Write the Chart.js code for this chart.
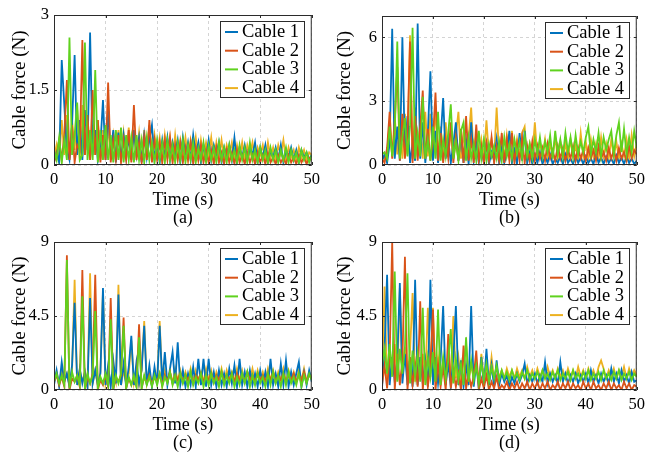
<!DOCTYPE html>
<html>
<head>
<meta charset="utf-8">
<script src="https://cdn.jsdelivr.net/npm/chart.js@4.4.1/dist/chart.umd.min.js"></script>
<style>
  body { margin: 0; background: #fff; width: 650px; height: 455px; position: relative; overflow: hidden; }
  canvas { position: absolute; }
</style>
</head>
<body>
<canvas id="panelA" width="325" height="228" style="left:0;top:0"></canvas>
<canvas id="panelB" width="325" height="228" style="left:325px;top:0"></canvas>
<canvas id="panelC" width="325" height="228" style="left:0;top:227px"></canvas>
<canvas id="panelD" width="325" height="228" style="left:325px;top:227px"></canvas>
<script>
// sample times, every 0.5 s from 0 to 50 s
const timeS = [];
for (let i = 0; i <= 100; i++) timeS.push(i * 0.5);

const cableNames = ['Cable 1', 'Cable 2', 'Cable 3', 'Cable 4'];
const xTicks = [0, 10, 20, 30, 40, 50];

// (a)
const yTicksA = [0, 1.5, 3];
const forceA1 = [0.1,0.25,0.05,2.1,1.2,0.3,0.1,0.8,2.2,0.2,0.9,0.1,1.1,0.3,2.65,0.2,0.7,0.1,0.4,1.3,
  0.1,1.1,0.2,0.7,0.05,0.65,0.1,0.6,0.15,0.55,0.1,0.7,0.2,0.55,0.05,0.6,0.15,0.5,0.8,0.1,
  0.45,0.05,0.5,0.15,0.55,0.1,0.45,0.2,0.5,0.05,0.55,0.15,0.45,0.1,0.6,0.2,0.45,0.05,0.4,0.15,
  0.5,0.1,0.4,0.2,0.45,0.05,0.35,0.15,0.4,0.1,0.55,0.05,0.35,0.15,0.4,0.1,0.35,0.2,0.45,0.05,
  0.35,0.15,0.4,0.05,0.3,0.15,0.35,0.1,0.4,0.05,0.3,0.15,0.35,0.1,0.3,0.05,0.3,0.15,0.25,0.1,0.2];
const forceA2 = [0.05,0.2,0.5,0.1,0.6,1.7,0.1,0.8,0.05,0.4,0.3,2.5,0.2,1.0,0.1,1.5,0.2,0.9,0.05,0.6,
  0.1,1.65,0.05,0.5,0.1,0.6,0.05,0.5,0.1,0.7,0.05,1.2,0.1,0.45,0.05,0.55,0.1,0.9,0.05,0.5,
  0.1,0.45,0.05,0.5,0.1,0.55,0.05,0.4,0.1,0.45,0.05,0.35,0.1,0.45,0.02,0.35,0.1,0.4,0.05,0.3,
  0.05,0.3,0.02,0.35,0.05,0.25,0.02,0.3,0.05,0.25,0.02,0.3,0.05,0.2,0.02,0.25,0.05,0.2,0.02,0.25,
  0.05,0.2,0.02,0.25,0.05,0.15,0.02,0.2,0.05,0.15,0.02,0.2,0.05,0.15,0.02,0.2,0.05,0.15,0.02,0.15,0.1];
const forceA3 = [0.3,0.1,0.55,0.05,0.5,0.1,2.55,0.2,0.6,1.25,0.1,0.2,2.45,0.1,0.7,0.1,1.9,0.05,0.7,0.1,
  0.8,0.1,0.6,0.05,0.7,0.1,0.75,0.05,0.6,0.1,0.55,0.05,0.6,0.1,0.5,0.05,0.55,0.1,0.45,0.05,
  0.5,0.1,0.45,0.05,0.5,0.1,0.4,0.05,0.45,0.1,0.5,0.05,0.4,0.1,0.45,0.05,0.35,0.1,0.45,0.05,
  0.4,0.1,0.35,0.05,0.45,0.1,0.35,0.05,0.4,0.1,0.3,0.05,0.4,0.1,0.35,0.05,0.45,0.1,0.3,0.05,
  0.35,0.1,0.3,0.05,0.35,0.1,0.3,0.05,0.3,0.1,0.35,0.05,0.3,0.1,0.25,0.05,0.3,0.1,0.25,0.05,0.2];
const forceA4 = [0.15,0.4,0.05,0.9,0.2,1.0,0.1,0.9,0.3,1.1,0.1,1.2,0.2,1.0,0.1,0.8,0.2,0.9,0.1,0.7,
  0.2,0.75,0.1,0.6,0.2,0.7,0.1,0.65,0.2,0.75,0.1,0.6,0.2,0.65,0.1,0.7,0.2,0.8,0.15,0.6,
  0.2,0.55,0.1,0.6,0.2,0.55,0.1,0.6,0.15,0.5,0.2,0.55,0.1,0.5,0.2,0.55,0.1,0.5,0.15,0.45,
  0.2,0.55,0.1,0.45,0.15,0.5,0.1,0.4,0.2,0.45,0.1,0.4,0.15,0.45,0.1,0.4,0.2,0.45,0.1,0.35,
  0.2,0.4,0.1,0.45,0.15,0.35,0.1,0.4,0.2,0.5,0.1,0.35,0.15,0.3,0.1,0.35,0.15,0.3,0.1,0.25,0.2];

// (b)
const yTicksB = [0, 3, 6];
const forceB1 = [0.2,0.5,0.1,1.0,6.4,0.3,1.8,0.2,6.0,0.5,2.3,0.1,1.0,0.2,6.65,0.3,2.0,0.1,1.5,4.4,
  0.2,1.6,0.1,1.2,3.15,0.3,1.2,0.1,1.0,2.0,0.2,1.5,0.1,1.2,0.05,2.0,0.2,1.0,0.1,0.8,
  0.1,1.0,0.05,0.6,0.2,1.2,0.05,0.8,0.1,0.5,1.6,0.1,0.7,0.05,1.5,0.2,1.6,0.1,0.6,0.05,
  0.5,0.1,0.6,0.05,0.4,0.1,0.5,0.05,0.3,0.1,0.4,0.05,0.5,0.1,0.3,0.05,0.4,0.1,0.35,0.05,
  0.4,0.1,0.3,0.05,0.5,0.1,0.35,0.05,0.4,0.1,0.3,0.05,0.45,0.1,0.35,0.05,0.4,0.1,0.3,0.05,0.2];
const forceB2 = [0.3,0.1,0.8,2.5,0.3,2.0,4.6,0.2,2.4,0.3,1.5,5.8,0.1,2.3,0.2,1.8,3.5,0.3,1.7,0.2,
  1.2,3.4,0.2,1.5,0.1,1.2,0.3,2.0,0.1,1.3,0.2,1.7,0.1,2.3,0.2,1.2,0.1,1.9,0.2,0.9,
  0.1,1.0,0.2,1.3,0.1,0.9,0.2,1.5,0.1,1.2,0.2,1.5,0.1,1.0,0.2,1.3,0.1,0.9,0.2,1.1,
  0.2,0.9,0.3,0.8,0.2,1.0,0.3,0.7,0.2,0.9,0.3,0.8,0.2,0.7,0.3,0.9,0.2,0.8,0.3,0.7,
  0.2,0.8,0.3,0.7,0.2,0.9,0.3,0.6,0.2,0.8,0.3,0.7,0.2,0.8,0.3,0.6,0.2,0.9,0.3,0.7,0.5];
const forceB3 = [0.5,0.6,0.3,1.8,0.4,1.5,5.8,0.3,1.3,2.2,0.4,1.8,6.45,0.3,1.5,0.4,3.2,0.3,1.2,0.2,
  1.8,0.3,2.5,0.2,1.2,0.4,1.5,2.85,0.3,1.1,0.2,1.6,2.0,0.2,1.3,0.3,1.0,0.2,1.6,0.3,
  1.2,0.2,1.0,0.4,0.9,0.3,1.1,0.2,1.3,0.4,1.0,0.3,1.2,0.5,1.1,0.3,1.4,0.4,1.0,0.3,
  1.2,0.5,1.3,0.4,1.1,0.6,1.4,0.3,1.6,0.5,1.2,0.4,1.5,0.6,1.3,0.4,1.4,0.5,1.1,0.6,
  1.3,1.8,0.5,1.2,0.6,1.5,0.4,1.3,0.7,1.2,1.6,0.5,1.4,2.0,0.6,1.7,0.5,1.3,0.6,1.6,0.8];
const forceB4 = [0.4,0.3,0.6,2.0,0.4,2.3,0.5,2.0,0.3,2.4,0.5,6.1,0.3,2.7,0.4,2.0,0.3,2.5,0.4,2.4,
  0.3,2.8,0.4,1.8,0.3,2.0,0.4,1.6,0.3,1.4,2.5,0.3,1.5,0.4,1.3,2.7,0.3,1.5,0.4,1.2,
  0.3,2.1,0.4,1.2,0.3,2.7,0.4,1.3,0.3,1.4,0.4,1.6,0.3,1.2,0.4,1.5,1.8,0.3,1.0,0.4,
  2.0,0.3,1.1,0.4,1.2,0.3,1.0,0.4,1.3,0.3,1.1,0.4,1.0,0.3,1.2,0.4,0.9,0.3,1.5,0.4,
  1.1,0.3,1.2,0.4,1.0,0.3,1.3,0.4,1.0,0.3,1.2,0.4,1.1,0.3,1.0,0.4,1.2,0.3,1.4,0.4,1.0];

// (c)
const yTicksC = [0, 4.5, 9];
const forceC1 = [0.3,1.2,0.2,1.7,0.5,1.0,0.2,1.5,5.3,0.3,1.3,0.4,1.1,0.2,5.6,0.4,1.2,0.3,1.0,6.2,
  0.3,1.5,0.2,1.8,0.4,5.8,0.3,1.6,0.2,1.4,3.3,0.3,1.7,0.4,1.2,3.9,0.3,1.5,0.2,1.4,
  0.3,3.9,0.4,2.3,0.3,1.3,2.3,0.4,2.9,0.3,1.2,0.2,1.0,0.3,1.4,0.2,1.9,0.3,1.9,0.2,
  1.9,0.3,1.1,0.2,1.2,0.3,1.0,0.2,1.3,0.4,1.5,0.2,1.9,0.3,1.1,0.2,1.2,0.3,1.0,0.2,
  1.2,0.3,1.1,0.2,1.9,0.3,1.0,0.2,1.6,0.3,1.8,0.2,1.1,0.3,1.0,1.7,0.2,1.1,0.3,1.2,0.5];
const forceC2 = [0.5,0.9,0.3,0.8,0.2,8.2,0.0,0.7,0.5,0.9,0.2,7.3,0.0,0.8,0.4,1.0,7.0,0.0,0.6,0.3,
  0.9,0.2,5.6,0.0,0.8,0.5,0.9,4.4,0.1,0.7,0.3,0.8,0.2,4.0,0.1,0.8,0.4,0.9,0.3,0.8,
  0.5,1.0,0.3,0.9,0.5,1.1,0.4,0.9,0.6,1.0,0.5,0.9,0.6,1.0,0.4,0.9,0.6,1.0,0.5,0.9,
  0.6,1.0,0.5,0.9,0.6,1.1,0.5,0.9,0.6,1.0,0.5,1.0,0.6,0.9,0.5,1.1,0.6,0.9,0.5,1.0,
  0.6,0.9,0.5,1.0,0.6,1.1,0.5,0.9,0.6,1.0,0.5,0.9,0.6,1.0,0.5,0.9,0.6,1.1,0.5,0.9,0.7];
const forceC3 = [0.5,1.0,0.4,0.9,0.3,7.9,0.1,1.1,0.5,0.9,0.3,5.7,0.1,1.0,0.4,0.9,4.8,0.1,0.8,0.4,
  1.0,0.3,4.3,0.1,0.9,0.4,1.0,3.9,0.1,0.8,0.3,0.9,0.2,3.2,0.1,0.9,0.3,0.8,0.2,0.9,
  0.3,1.0,0.2,0.8,0.4,1.1,0.3,0.9,0.2,1.0,0.4,0.9,0.2,1.1,0.3,0.8,0.4,1.0,0.2,0.9,
  0.3,1.0,0.4,0.8,0.2,1.1,0.3,0.9,0.4,1.0,0.2,0.8,0.3,1.0,0.4,1.1,0.2,0.9,0.3,1.0,
  0.4,0.8,0.2,1.0,0.3,1.1,0.4,0.9,0.2,1.0,0.3,1.1,0.4,0.8,0.3,1.0,0.2,0.9,0.4,1.0,0.6];
const forceC4 = [0.6,1.1,0.4,1.3,0.5,1.0,0.3,1.2,6.7,0.3,1.2,0.5,1.1,0.3,7.1,0.4,1.2,0.3,1.1,6.0,
  0.4,1.2,0.3,1.1,0.5,6.4,0.3,1.2,0.4,1.0,3.0,0.4,1.1,0.3,1.2,4.2,0.4,1.1,0.3,1.0,
  0.5,4.2,0.4,1.2,0.5,1.1,0.4,1.3,0.6,1.2,0.5,1.1,0.6,1.3,0.5,1.2,0.6,1.1,0.5,1.3,
  0.6,1.2,0.5,1.1,0.6,1.3,0.5,1.2,0.6,1.1,0.5,1.3,0.6,1.2,0.5,1.1,0.6,1.3,0.5,1.2,
  0.6,1.1,0.5,1.3,0.6,1.2,0.5,1.1,0.6,1.3,0.5,1.2,0.6,1.1,0.5,1.2,0.6,1.3,0.5,1.1,0.8];

// (d)
const yTicksD = [0, 4.5, 9];
const forceD1 = [0.1,2.5,7.0,0.3,2.0,0.5,1.8,6.5,0.4,2.2,0.3,1.9,0.2,6.7,0.3,2.0,0.4,1.8,0.2,6.7,
  0.3,2.0,0.4,1.8,5.1,0.3,1.6,0.2,1.9,5.1,0.3,1.8,0.2,1.5,0.3,5.1,0.2,1.6,0.1,2.0,
  0.2,2.5,0.3,1.5,0.2,1.8,0.3,1.0,0.5,0.9,0.2,0.8,0.4,1.0,0.5,0.9,1.6,0.4,0.9,0.5,
  1.0,0.4,0.9,0.5,1.7,0.4,1.0,0.5,0.9,0.4,1.7,0.5,1.0,0.4,0.9,0.5,1.0,0.4,0.9,0.5,
  1.0,0.4,1.2,0.5,0.9,0.4,1.0,0.5,0.9,0.4,1.3,0.5,1.0,0.4,1.2,0.5,0.9,0.4,1.1,0.5,0.6];
const forceD2 = [0.3,1.5,0.1,2.0,9.0,0.0,2.2,0.3,1.8,8.1,0.0,2.0,0.3,1.6,0.2,5.4,0.0,1.8,0.2,1.5,
  4.9,0.0,1.6,0.2,1.4,0.0,3.4,0.1,1.2,0.2,1.0,0.0,2.7,0.1,1.0,0.2,0.8,2.4,0.0,0.7,
  0.1,0.9,0.0,0.5,0.1,0.8,0.0,0.3,0.1,0.5,0.0,0.4,0.1,0.5,0.0,0.4,0.1,0.5,0.0,0.4,
  0.1,0.5,0.0,0.4,0.1,0.5,0.0,0.3,0.1,0.5,0.0,0.4,0.1,0.5,0.0,0.4,0.1,0.3,0.0,0.5,
  0.1,0.4,0.0,0.5,0.1,0.3,0.0,0.4,0.1,0.5,0.0,0.4,0.1,0.3,0.0,0.5,0.1,0.4,0.0,0.3,0.2];
const forceD3 = [1.5,2.5,1.0,2.8,0.8,7.2,0.5,2.5,1.0,2.6,7.1,0.4,2.4,0.8,2.2,0.5,5.0,0.3,2.0,0.8,
  2.3,0.5,4.9,0.3,2.0,0.7,1.8,3.7,0.4,1.9,0.6,1.6,0.3,3.2,0.5,1.8,0.6,1.5,0.4,1.7,
  0.6,1.6,0.5,1.4,0.7,1.5,0.6,1.2,0.7,1.1,0.6,1.2,0.7,1.0,0.6,1.1,0.7,1.2,0.6,1.0,
  0.7,1.1,0.6,1.2,0.7,1.0,0.6,1.1,0.7,1.2,0.6,1.0,0.7,1.1,0.6,1.2,0.7,1.0,0.6,1.1,
  0.7,1.2,0.6,1.0,0.7,1.1,0.6,1.2,0.7,1.0,0.6,1.1,0.7,1.2,0.6,1.0,0.7,1.1,0.6,1.0,0.8];
const forceD4 = [0.2,6.3,0.5,2.5,1.0,2.8,0.6,6.2,0.8,2.6,1.0,2.3,5.9,0.5,2.4,0.7,2.2,0.6,5.0,0.8,
  5.0,0.5,2.0,0.7,1.8,0.5,2.2,0.6,4.5,0.7,2.0,0.5,1.8,2.8,0.6,1.5,0.7,1.6,0.5,2.2,
  0.7,1.5,0.6,2.0,0.7,1.3,0.8,1.2,0.7,1.3,0.8,1.2,0.7,1.3,0.8,1.2,0.7,1.4,0.8,1.2,
  0.7,1.3,0.8,1.2,0.7,1.4,0.8,1.2,0.7,1.3,0.8,1.2,0.7,1.3,0.8,1.2,0.7,1.4,0.8,1.2,
  0.7,1.3,0.8,1.2,0.7,1.4,1.8,1.3,0.7,1.2,0.8,1.3,0.7,1.2,0.8,1.4,0.7,1.3,0.8,1.2,0.9];

const cableColors = ['#0072BD', '#D95319', '#5FD21E', '#EDB120'];
// green on top, yellow underneath
const drawOrder = [2, 1, 0, 3];
const FONT = "'Liberation Serif', 'Times New Roman', serif";

// axes box, inward ticks and the boxed legend
const boxPlugin = {
  id: 'boxFrame',
  afterDraw(chart) {
    const { ctx, chartArea: a, scales } = chart;
    ctx.save();
    ctx.strokeStyle = '#2b2b2b';
    ctx.lineWidth = 1;
    ctx.beginPath();
    scales.x.ticks.forEach(t => {
      const px = Math.round(scales.x.getPixelForValue(t.value)) + 0.5;
      ctx.moveTo(px, a.bottom); ctx.lineTo(px, a.bottom - 3);
      ctx.moveTo(px, a.top); ctx.lineTo(px, a.top + 3);
    });
    scales.y.ticks.forEach(t => {
      const py = Math.round(scales.y.getPixelForValue(t.value)) + 0.5;
      ctx.moveTo(a.left, py); ctx.lineTo(a.left + 3, py);
      ctx.moveTo(a.right, py); ctx.lineTo(a.right - 3, py);
    });
    ctx.stroke();
    ctx.strokeRect(a.left + 0.5, a.top + 0.5, a.right - a.left - 1, a.bottom - a.top - 1);

    ctx.font = '18.5px ' + FONT;
    const sets = chart.data.datasets;
    const tw = Math.max(...sets.map(d => ctx.measureText(d.label).width));
    const w = Math.round(tw + 27), h = 76;
    const x0 = Math.round(a.right - 8 - w), y0 = Math.round(a.top + 6);
    ctx.fillStyle = '#fff';
    ctx.fillRect(x0, y0, w, h);
    ctx.strokeStyle = '#2b2b2b';
    ctx.strokeRect(x0 + 0.5, y0 + 0.5, w, h);
    ctx.textBaseline = 'middle';
    sets.forEach((d, i) => {
      const cy = y0 + 11 + i * 18.7;
      ctx.strokeStyle = d.borderColor;
      ctx.lineWidth = 2;
      ctx.beginPath();
      ctx.moveTo(x0 + 5, cy); ctx.lineTo(x0 + 18, cy);
      ctx.stroke();
      ctx.fillStyle = '#000';
      ctx.fillText(d.label, x0 + 22, cy);
    });
    ctx.restore();
  }
};

function makePanel(id, series, yTicks, yMax, caption, area, capPad) {
  const el = document.getElementById(id);
  const W = el.width, H = el.height;
  return new Chart(el, {
    type: 'line',
    data: {
      datasets: series.map((vals, k) => ({
        label: cableNames[k],
        data: vals.map((v, i) => ({ x: timeS[i], y: v })),
        borderColor: cableColors[k],
        borderWidth: 1.8,
        pointRadius: 0,
        tension: 0,
        order: drawOrder[k]
      }))
    },
    options: {
      responsive: false,
      animation: false,
      events: [],
      layout: { padding: { top: area.top, right: W - area.right, left: 0, bottom: 0 } },
      plugins: { legend: { display: false }, tooltip: { enabled: false } },
      scales: {
        x: {
          type: 'linear', min: 0, max: 50,
          afterBuildTicks: s => { s.ticks = xTicks.map(v => ({ value: v })); },
          afterFit: s => { s.height = H - area.bottom; },
          grid: { color: '#d4d4d4', drawTicks: false, lineWidth: 1 },
          border: { display: false, dash: [3, 3] },
          ticks: { color: '#000', font: { family: FONT, size: 16.5 }, padding: 5, maxRotation: 0 },
          title: {
            display: true, text: ['Time (s)', caption], color: '#000',
            font: { family: FONT, size: 18, lineHeight: 1 },
            padding: { top: 0, bottom: capPad }
          }
        },
        y: {
          min: 0, max: yMax,
          afterBuildTicks: s => { s.ticks = yTicks.map(v => ({ value: v })); },
          afterFit: s => { s.width = area.left; },
          grid: { color: '#d4d4d4', drawTicks: false, lineWidth: 1 },
          border: { display: false, dash: [3, 3] },
          ticks: { color: '#000', font: { family: FONT, size: 16.5 }, padding: 5 },
          title: {
            display: true, text: 'Cable force (N)', color: '#000',
            font: { family: FONT, size: 19, lineHeight: 1.2 },
            padding: { top: 9, bottom: 0 }
          }
        }
      }
    },
    plugins: [boxPlugin]
  });
}

makePanel('panelA', [forceA1, forceA2, forceA3, forceA4], yTicksA, 3, '(a)',
  { left: 54, top: 15, right: 313, bottom: 165 }, 1);
makePanel('panelB', [forceB1, forceB2, forceB3, forceB4], yTicksB, 7, '(b)',
  { left: 57, top: 16, right: 315, bottom: 165 }, 1);
makePanel('panelC', [forceC1, forceC2, forceC3, forceC4], yTicksC, 9, '(c)',
  { left: 54, top: 15, right: 313, bottom: 163 }, 3);
makePanel('panelD', [forceD1, forceD2, forceD3, forceD4], yTicksD, 9, '(d)',
  { left: 57, top: 15, right: 315, bottom: 163 }, 3);
</script>
</body>
</html>
